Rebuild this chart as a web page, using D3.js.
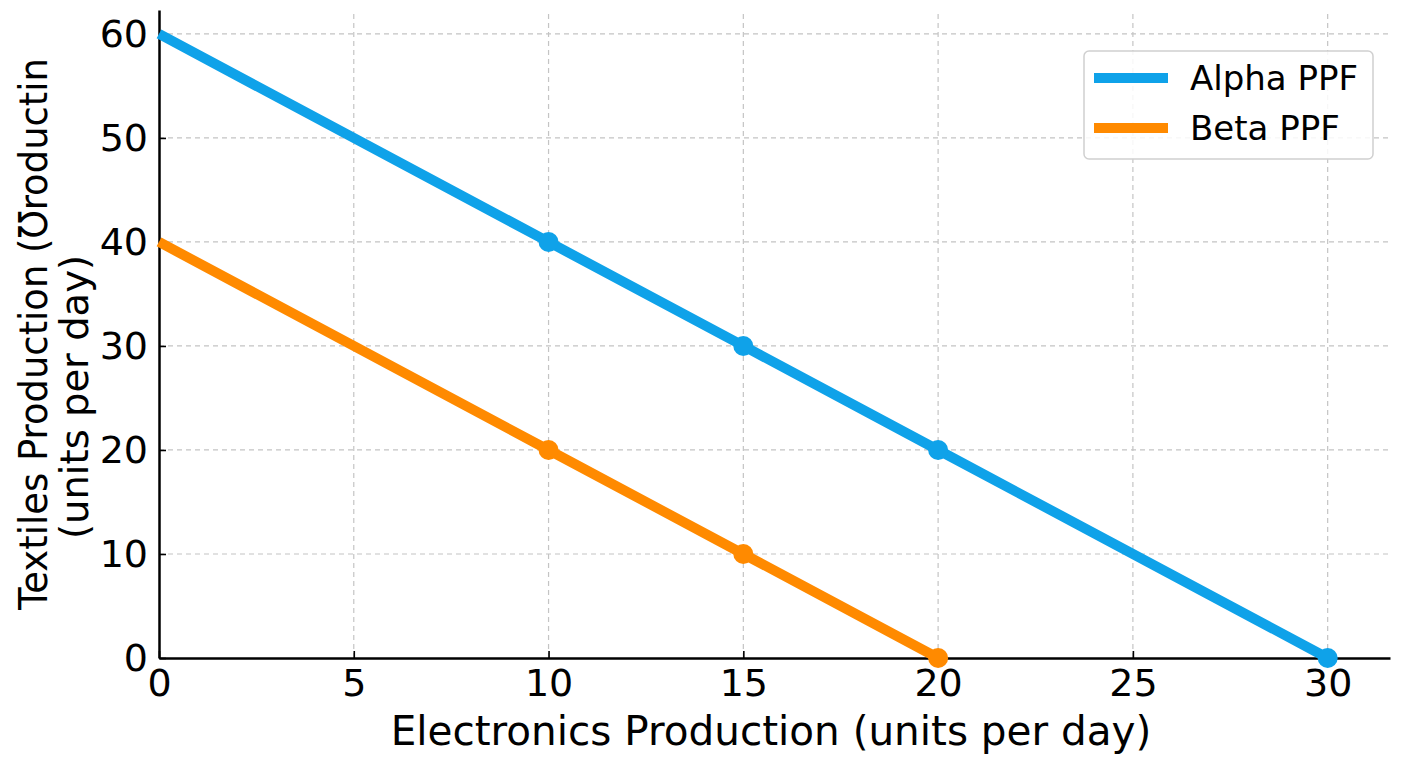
<!DOCTYPE html>
<html>
<head>
  <meta charset="utf-8">
  <title>PPF</title>
  <script src="https://cdn.jsdelivr.net/npm/d3@7"></script>
  <style>
    body { margin: 0; background: #fff; }
    text { font-family: "DejaVu Sans", sans-serif; fill: #000; }
  </style>
</head>
<body>
<script>
  // size of the picture
  const w = 1408;
  const h = 768;

  // data
  const alphaX = [0, 10, 15, 20, 30];
  const alphaY = [60, 40, 30, 20, 0];
  const alphaDotsX = [10, 15, 20, 30];
  const alphaDotsY = [40, 30, 20, 0];

  const betaX = [0, 10, 15, 20];
  const betaY = [40, 20, 10, 0];
  const betaDotsX = [10, 15, 20];
  const betaDotsY = [20, 10, 0];

  const xTicks = [0, 5, 10, 15, 20, 25, 30];
  const yTicks = [0, 10, 20, 30, 40, 50, 60];
  const seriesNames = ["Alpha PPF", "Beta PPF"];
  const colors = ["#0fa2e9", "#ff8a00"];

  const xScale = d3.scaleLinear().domain([0, 31.6]).range([159, 1390]);
  const yScale = d3.scaleLinear().domain([0, 62.3]).range([658, 10]);

  const svg = d3.select("body").append("svg")
    .attr("width", w).attr("height", h);

  // grid
  svg.append("g").selectAll("line")
    .data(xTicks.filter(d => d > 0))
    .enter().append("line")
    .attr("x1", d => xScale(d)).attr("x2", d => xScale(d))
    .attr("y1", yScale(0)).attr("y2", yScale(62.3))
    .attr("stroke", "#c4c4c4").attr("stroke-width", 1.2)
    .attr("stroke-dasharray", "5,4");
  svg.append("g").selectAll("line")
    .data(yTicks.filter(d => d > 0))
    .enter().append("line")
    .attr("x1", xScale(0)).attr("x2", xScale(31.6))
    .attr("y1", d => yScale(d)).attr("y2", d => yScale(d))
    .attr("stroke", "#c4c4c4").attr("stroke-width", 1.2)
    .attr("stroke-dasharray", "5,4");

  // axes (ticks point inward)
  const xAxis = svg.append("g")
    .attr("transform", `translate(0,${yScale(0)})`)
    .call(d3.axisBottom(xScale).tickValues(xTicks).tickSize(-7).tickPadding(12).tickSizeOuter(0));
  const yAxis = svg.append("g")
    .attr("transform", `translate(${xScale(0)},0)`)
    .call(d3.axisLeft(yScale).tickValues(yTicks).tickSize(-7).tickPadding(12).tickSizeOuter(0));

  [xAxis, yAxis].forEach(a => {
    a.select(".domain").attr("stroke", "#000").attr("stroke-width", 2.5);
    a.selectAll(".tick line").attr("stroke", "#000").attr("stroke-width", 1.6);
    a.selectAll(".tick text").style("font-size", "38px").attr("fill", "#000");
  });
  xAxis.selectAll(".tick text").attr("dy", "0.72em").attr("y", 11);
  yAxis.selectAll(".tick text").attr("x", -11);

  // lines
  const line = d3.line().x(d => xScale(d[0])).y(d => yScale(d[1]));
  const series = [
    { xs: alphaX, ys: alphaY, dx: alphaDotsX, dy: alphaDotsY },
    { xs: betaX, ys: betaY, dx: betaDotsX, dy: betaDotsY }
  ];
  series.forEach((s, i) => {
    svg.append("path")
      .datum(s.xs.map((x, j) => [x, s.ys[j]]))
      .attr("d", line)
      .attr("fill", "none")
      .attr("stroke", colors[i])
      .attr("stroke-width", 10);
    svg.selectAll(null)
      .data(s.dx.map((x, j) => [x, s.dy[j]]))
      .enter().append("circle")
      .attr("cx", d => xScale(d[0]))
      .attr("cy", d => yScale(d[1]))
      .attr("r", 10)
      .attr("fill", colors[i]);
  });

  // axis titles
  svg.append("text")
    .attr("x", 771).attr("y", 745)
    .attr("text-anchor", "middle")
    .style("font-size", "40.5px")
    .text("Electronics Production (units per day)");

  svg.append("text")
    .attr("transform", "translate(47,610) rotate(-90)")
    .attr("text-anchor", "start")
    .attr("textLength", 552)
    .attr("lengthAdjust", "spacingAndGlyphs")
    .style("font-size", "39px")
    .text("Textiles Production (Ʊroductin");
  svg.append("text")
    .attr("transform", "translate(88,397) rotate(-90)")
    .attr("text-anchor", "middle")
    .style("font-size", "38.5px")
    .text("(units per day)");

  // legend
  const lg = svg.append("g");
  lg.append("rect")
    .attr("x", 1084).attr("y", 51).attr("width", 289).attr("height", 108)
    .attr("rx", 5)
    .attr("fill", "#fff").attr("fill-opacity", 0.85)
    .attr("stroke", "#d0d0d0").attr("stroke-width", 1.5);
  seriesNames.forEach((name, i) => {
    const y = 78 + i * 50;
    lg.append("line")
      .attr("x1", 1094).attr("x2", 1168)
      .attr("y1", y).attr("y2", y)
      .attr("stroke", colors[i]).attr("stroke-width", 10);
    lg.append("text")
      .attr("x", 1190).attr("y", y + 12)
      .style("font-size", "34px")
      .text(name);
  });
</script>
</body>
</html>
